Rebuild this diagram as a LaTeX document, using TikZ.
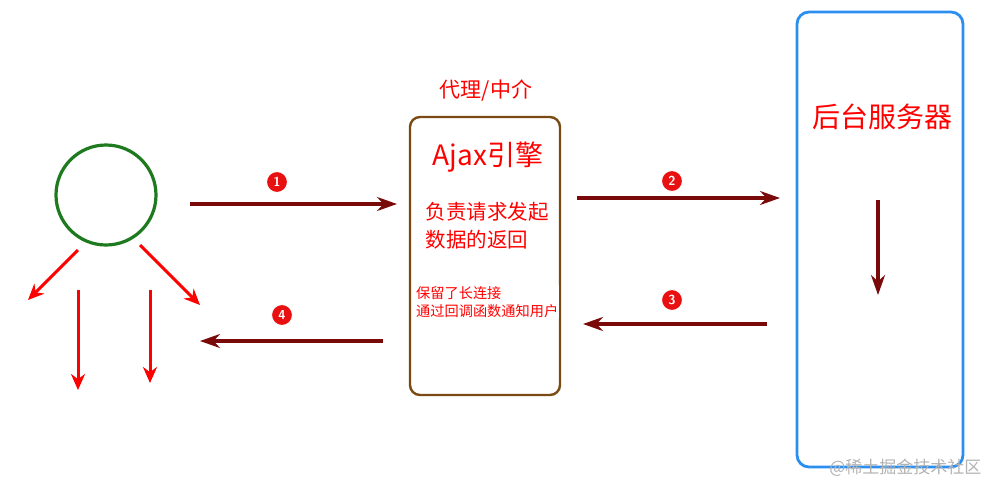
\documentclass[tikz,border=0pt]{standalone}
\usepackage{fontspec}
\newfontfamily\cjk{Noto Sans CJK SC}
\usetikzlibrary{arrows.meta}
\definecolor{dred}{HTML}{7A0A0A}
\definecolor{bred}{HTML}{E81010}
\definecolor{gr}{HTML}{1E7A1E}
\definecolor{br}{HTML}{7A4A12}
\definecolor{bl}{HTML}{2A8FF0}
\tikzset{
 darr/.style={draw=dred,line width=3.2pt,-{Stealth[length=20pt,width=14pt]}},
 rarr/.style={draw=red,line width=3pt,-{Stealth[length=16pt,width=14pt]}},
 badge/.style={circle,fill=bred,draw=white,line width=1pt,inner sep=0pt,minimum size=21pt,text=white,font=\sffamily\bfseries\fontsize{13}{13}\selectfont},
 rtxt/.style={text=red,font=\cjk},
}
\begin{document}
\begin{tikzpicture}[x=1pt,y=-1pt]
\useasboundingbox (0,0) rectangle (996,499);
\node[circle,draw=gr,line width=3.2pt,minimum size=100pt,inner sep=0pt] (user) at (106,195) {};
\coordinate (u1s) at (78,250); \coordinate (u1e) at (28,300);
\coordinate (u2s) at (140,245); \coordinate (u2e) at (200,305);
\coordinate (u3s) at (78,290); \coordinate (u3e) at (78,390);
\coordinate (u4s) at (150,290); \coordinate (u4e) at (150,383);
\draw[rarr] (u1s)--(u1e); \draw[rarr] (u2s)--(u2e);
\draw[rarr] (u3s)--(u3e); \draw[rarr] (u4s)--(u4e);
\node[draw=br,line width=2.4pt,rounded corners=10pt,minimum width=150pt,minimum height=278pt] (ajax) at (485,256) {};
\node[draw=bl,line width=2.8pt,rounded corners=12pt,minimum width=166pt,minimum height=455pt] (srv) at (880,239.5) {};
\node[rtxt,font=\cjk\fontsize{21}{21}\selectfont] (lbl) at (486,90) {代理/中介};
\node[rtxt,font=\cjk\fontsize{28}{28}\selectfont] (aj) at (488,157) {Ajax引擎};
\node[rtxt,font=\cjk\fontsize{20.5}{28}\selectfont,align=left,anchor=north west] (resp) at (422,199) {负责请求发起\\数据的返回};
\node[rtxt,font=\cjk\fontsize{14.2}{18}\selectfont,align=left,anchor=north west,fill=white,inner sep=1pt] (keep) at (415,285) {保留了长连接\\通过回调函数通知用户};
\node[rtxt,font=\cjk\fontsize{28}{28}\selectfont] (srvt) at (882,117) {后台服务器};
\coordinate (s1) at (878,200); \coordinate (s2) at (878,295);
\draw[darr] (s1)--(s2);
\coordinate (a1s) at (190,204); \coordinate (a1e) at (397,204);
\coordinate (a2s) at (577,198); \coordinate (a2e) at (780,198);
\coordinate (a3s) at (767,324); \coordinate (a3e) at (583,324);
\coordinate (a4s) at (383,341); \coordinate (a4e) at (200,341);
\draw[darr] (a1s)--(a1e); \draw[darr] (a2s)--(a2e);
\draw[darr] (a3s)--(a3e); \draw[darr] (a4s)--(a4e);
\node[badge] (b1) at (277,182) {1};
\node[badge] (b2) at (672,181) {2};
\node[badge] (b3) at (672,300) {3};
\node[badge] (b4) at (282,315) {4};
\node[text=gray!60,font=\cjk\fontsize{17}{17}\selectfont,anchor=east] (wm) at (985,468) {@稀土掘金技术社区};
\end{tikzpicture}
\end{document}
